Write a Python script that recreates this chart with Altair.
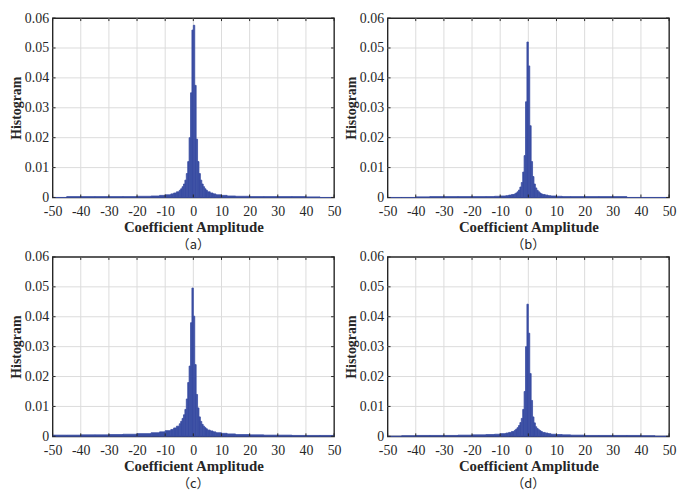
import altair as alt
import pandas as pd

# ---------------- data ----------------
edges = [-50, -45, -40, -35, -30, -25, -20, -15, -12, -10, -8, -7, -6, -5,
         -4.5, -4, -3.5, -3, -2.5, -2, -1.5, -1, -0.5, 0, 0.5, 1, 1.5, 2,
         2.5, 3, 3.5, 4, 4.5, 5, 6, 7, 8, 10, 12, 15, 20, 25, 30, 35, 40, 45, 50]

hist_a = [0.0000, 0.0003, 0.0003, 0.0003, 0.0003, 0.0003, 0.0004, 0.0005, 0.0007, 0.0009,
          0.0012, 0.0015, 0.0019, 0.0024, 0.0029, 0.0036, 0.0045, 0.0058, 0.0080, 0.0120,
          0.0200, 0.0350, 0.0560, 0.0576, 0.0375, 0.0195, 0.0120, 0.0080, 0.0058, 0.0045,
          0.0036, 0.0029, 0.0024, 0.0019, 0.0015, 0.0012, 0.0009, 0.0007, 0.0005, 0.0004,
          0.0003, 0.0003, 0.0003, 0.0003, 0.0002, 0.0000]

hist_b = [0.0000, 0.0000, 0.0002, 0.0003, 0.0003, 0.0003, 0.0003, 0.0003, 0.0004, 0.0005,
          0.0006, 0.0008, 0.0010, 0.0012, 0.0015, 0.0019, 0.0025, 0.0035, 0.0050, 0.0085,
          0.0140, 0.0320, 0.0520, 0.0440, 0.0240, 0.0120, 0.0070, 0.0045, 0.0032, 0.0024,
          0.0019, 0.0015, 0.0012, 0.0010, 0.0008, 0.0006, 0.0005, 0.0004, 0.0003, 0.0003,
          0.0003, 0.0003, 0.0003, 0.0000, 0.0000, 0.0000]

hist_c = [0.0004, 0.0004, 0.0005, 0.0005, 0.0006, 0.0007, 0.0009, 0.0012, 0.0015, 0.0019,
          0.0023, 0.0028, 0.0034, 0.0042, 0.0050, 0.0060, 0.0072, 0.0090, 0.0125, 0.0180,
          0.0235, 0.0380, 0.0496, 0.0402, 0.0240, 0.0140, 0.0095, 0.0065, 0.0050, 0.0040,
          0.0034, 0.0029, 0.0025, 0.0021, 0.0018, 0.0015, 0.0012, 0.0010, 0.0008, 0.0006,
          0.0005, 0.0004, 0.0004, 0.0003, 0.0003, 0.0003]

hist_d = [0.0000, 0.0002, 0.0003, 0.0003, 0.0003, 0.0004, 0.0005, 0.0006, 0.0007, 0.0009,
          0.0011, 0.0013, 0.0016, 0.0020, 0.0024, 0.0029, 0.0036, 0.0046, 0.0060, 0.0090,
          0.0150, 0.0300, 0.0442, 0.0345, 0.0210, 0.0120, 0.0065, 0.0045, 0.0032, 0.0026,
          0.0022, 0.0019, 0.0016, 0.0013, 0.0011, 0.0009, 0.0007, 0.0006, 0.0005, 0.0004,
          0.0003, 0.0003, 0.0003, 0.0003, 0.0002, 0.0000]

panel_labels = ["（a）", "（b）", "（c）", "（d）"]
x_ticks = [-50, -40, -30, -20, -10, 0, 10, 20, 30, 40, 50]
y_ticks = [0, 0.01, 0.02, 0.03, 0.04, 0.05, 0.06]
x_title = "Coefficient Amplitude"
y_title = "Histogram"

# ---------------- style ----------------
W, H = 284, 181
FONT = "Liberation Serif"
BLUE = "#3a4ea2"
DARK = "#262626"
GRID = "#dcdcdc"
TL = 3  # inner tick length

xs = alt.Scale(domain=[-50, 50], nice=False, zero=False)
ys = alt.Scale(domain=[0, 0.06], nice=False, zero=False)
xax = alt.Axis(values=x_ticks, title=x_title, labelExpr="'' + datum.value",
               labelOverlap=False, labelFlush=False)
yax = alt.Axis(values=y_ticks, title=y_title, format="~g", labelOverlap=False,
               labelFlush=False)


def panel(heights, label):
    df = pd.DataFrame({"lo": edges[:-1], "hi": edges[1:], "h": heights})
    xt = pd.DataFrame({"t": x_ticks})
    yt = pd.DataFrame({"t": y_ticks})

    xgrid = alt.Chart(xt).transform_filter(
        (alt.datum.t > -50) & (alt.datum.t < 50)
    ).mark_rule(color=GRID, strokeWidth=1).encode(
        x=alt.X("t:Q", scale=xs, axis=xax)
    )
    ygrid = alt.Chart(yt).transform_filter(
        (alt.datum.t > 0) & (alt.datum.t < 0.06)
    ).mark_rule(color=GRID, strokeWidth=1).encode(
        y=alt.Y("t:Q", scale=ys, axis=yax)
    )

    bars = alt.Chart(df).mark_rect(color=BLUE, stroke=BLUE, strokeWidth=0.8).encode(
        x=alt.X("lo:Q", scale=xs, axis=xax),
        x2="hi:Q",
        y=alt.Y("h:Q", scale=ys, axis=yax),
        y2=alt.datum(0),
    )

    tb = alt.Chart(xt).mark_rule(color=DARK, strokeWidth=1).encode(
        x=alt.X("t:Q", scale=xs, axis=xax), y=alt.value(H), y2=alt.value(H - TL))
    tt = alt.Chart(xt).mark_rule(color=DARK, strokeWidth=1).encode(
        x=alt.X("t:Q", scale=xs, axis=xax), y=alt.value(0), y2=alt.value(TL))
    tl = alt.Chart(yt).mark_rule(color=DARK, strokeWidth=1).encode(
        y=alt.Y("t:Q", scale=ys, axis=yax), x=alt.value(0), x2=alt.value(TL))
    tr = alt.Chart(yt).mark_rule(color=DARK, strokeWidth=1).encode(
        y=alt.Y("t:Q", scale=ys, axis=yax), x=alt.value(W), x2=alt.value(W - TL))

    return alt.layer(xgrid, ygrid, bars, tb, tt, tl, tr).properties(
        width=W, height=H,
        title=alt.TitleParams(text=label, orient="bottom", anchor="middle",
                              font="Noto Sans CJK SC", fontSize=13,
                              fontWeight="normal", color=DARK, offset=5),
    )


panels = [panel(h, lab) for h, lab in zip([hist_a, hist_b, hist_c, hist_d], panel_labels)]

chart = alt.concat(
    *panels, columns=2,
    spacing=alt.RowColnumber(row=60, column=54),
    bounds="flush",
).properties(
    padding={"left": 0, "top": 0, "right": 0, "bottom": 0}
).configure_view(
    stroke=DARK, strokeWidth=1.4
).configure_axis(
    labelFont=FONT, labelFontSize=14, labelColor=DARK,
    titleFont=FONT, titleFontWeight="bold", titleColor=DARK,
    domain=False, ticks=False, grid=False,
).configure_axisX(
    labelPadding=7, titlePadding=1, titleFontSize=15,
).configure_axisY(
    labelPadding=4, titlePadding=1, titleFontSize=14,
)

chart.save("out.html", embed_options={"renderer": "svg", "actions": False})
